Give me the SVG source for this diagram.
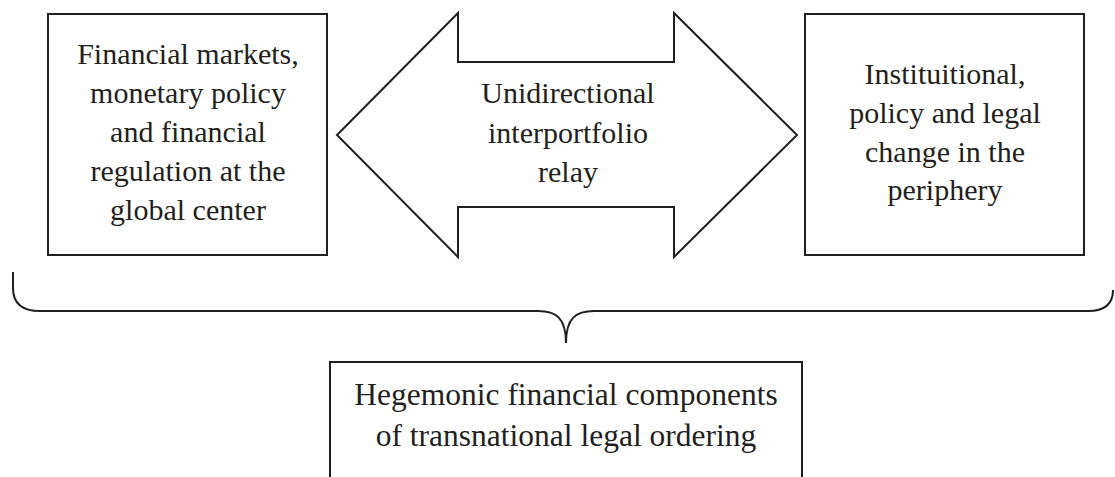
<svg xmlns="http://www.w3.org/2000/svg" width="1115" height="477" viewBox="0 0 1115 477">
<style>
.box{fill:#fff;stroke:#231f20;stroke-width:2}
.ln{fill:none;stroke:#231f20;stroke-width:2}
.t{font-family:"Liberation Serif","DejaVu Serif",serif;font-size:30px;fill:#231f20;text-anchor:middle}
.tb{font-size:31.5px}
</style>
<rect width="1115" height="477" fill="#fff"/>
<g id="center-node">
<rect class="box" x="48" y="14" width="279" height="241"/>
<text class="t" x="188" y="64">Financial markets,</text>
<text class="t" x="188" y="103">monetary policy</text>
<text class="t" x="188" y="142">and financial</text>
<text class="t" x="188" y="181">regulation at the</text>
<text class="t" x="188" y="220">global center</text>
</g>
<g id="relay-node">
<path class="box" d="M337,135 L458,13 L458,62 L674,62 L674,13 L797,135 L674,257 L674,207 L458,207 L458,257 Z"/>
<text class="t" x="568" y="103">Unidirectional</text>
<text class="t" x="568" y="143">interportfolio</text>
<text class="t" x="568" y="182">relay</text>
</g>
<g id="periphery-node">
<rect class="box" x="805" y="14" width="279" height="241"/>
<text class="t" x="945" y="84">Instituitional,</text>
<text class="t" x="945" y="123">policy and legal</text>
<text class="t" x="945" y="162">change in the</text>
<text class="t" x="945" y="200">periphery</text>
</g>
<g id="connectors">
<path class="ln" d="M13,272 L13,288 C13,304 22,311 40,311 L538,311 C556,311 566,318 566,343 C566,318 576,311 594,311 L1088,311 C1104,311 1113,304 1113,290"/>
</g>
<g id="hegemonic-node">
<path class="box" d="M330,480 L330,362 L802,362 L802,480"/>
<text class="t tb" x="566" y="405">Hegemonic financial components</text>
<text class="t tb" x="566" y="446">of transnational legal ordering</text>
</g>
</svg>
